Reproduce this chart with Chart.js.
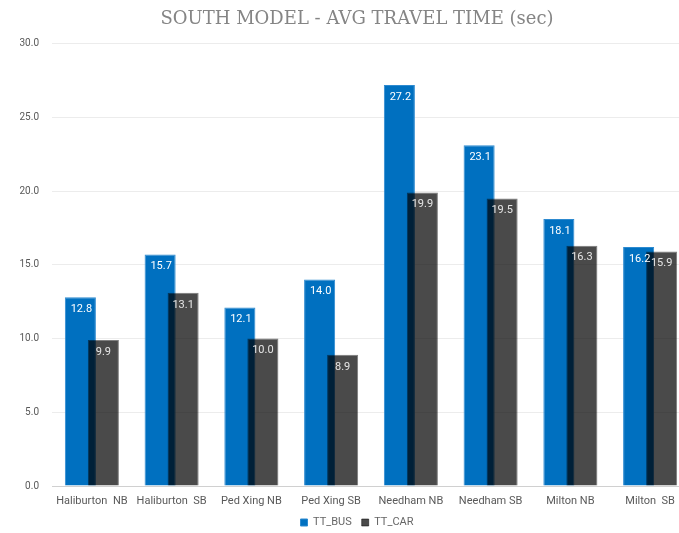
<!DOCTYPE html>
<html>
<head>
<meta charset="utf-8">
<script src="https://cdn.jsdelivr.net/npm/chart.js@4.4.1/dist/chart.umd.min.js"></script>
<style>
    html, body { margin: 0; padding: 0; background: #fff; overflow: hidden; }
    #wrap { width: 714px; height: 533px; }
</style>
</head>
<body>
<div id="wrap"><canvas id="myChart" width="714" height="533"></canvas></div>
<script>
// chart data
var categories = ['Haliburton  NB', 'Haliburton  SB', 'Ped Xing NB', 'Ped Xing SB', 'Needham NB', 'Needham SB', 'Milton NB', 'Milton  SB'];
var busTimes = [12.8, 15.7, 12.1, 14.0, 27.2, 23.1, 18.1, 16.2];
var carTimes = [9.9, 13.1, 10.0, 8.9, 19.9, 19.5, 16.3, 15.9];
var yTicks = [0, 5, 10, 15, 20, 25, 30];

// chart.js paints the last dataset first, so the car bars would sit under the bus bars.
// skip the car set in the normal pass and paint it right after the bus set instead
var carOnTop = {
    id: 'carOnTop',
    beforeDatasetDraw: function (chart, args) {
        if (args.index === 1 && !chart._carPass) return false;
    },
    afterDatasetDraw: function (chart, args) {
        if (args.index === 0) {
            chart._carPass = true;
            chart.getDatasetMeta(1).controller.draw();
            chart._carPass = false;
        }
    }
};

// keep the legend strip short so the plot reaches further down
var shortLegend = {
    id: 'shortLegend',
    beforeInit: function (chart) {
        var legend = chart.legend;
        if (!legend) return;
        var fit = legend.fit;
        legend.fit = function () {
            fit.call(this);
            this.height = 26;
        };
    }
};

// value labels drawn inside the top of each bar
var barLabels = {
    id: 'barLabels',
    afterDatasetsDraw: function (chart) {
        var ctx = chart.ctx;
        ctx.save();
        ctx.font = '11px Roboto';
        ctx.textAlign = 'center';
        ctx.textBaseline = 'middle';
        chart.data.datasets.forEach(function (ds, i) {
            chart.getDatasetMeta(i).data.forEach(function (bar, j) {
                ctx.fillStyle = i === 0 ? '#ffffff' : '#e6e6e6';
                ctx.fillText(ds.data[j].toFixed(1), bar.x + (i === 0 ? 1 : 0), bar.y + 12);
            });
        });
        ctx.restore();
    }
};

var ctx = document.getElementById('myChart').getContext('2d');
var myChart = new Chart(ctx, {
    type: 'bar',
    data: {
        labels: categories,
        datasets: [{
            label: 'TT_BUS',
            data: busTimes,
            backgroundColor: '#0070c0',
            borderColor: '#2d8ad0',
            borderWidth: 1,
            barPercentage: 1.35,
            categoryPercentage: 0.577
        }, {
            label: 'TT_CAR',
            data: carTimes,
            backgroundColor: 'rgba(0, 0, 0, 0.71)',
            borderColor: 'rgba(0, 0, 0, 0.5)',
            borderWidth: 1,
            barPercentage: 1.35,
            categoryPercentage: 0.577
        }]
    },
    options: {
        responsive: false,
        animation: false,
        layout: { padding: { left: 0, right: 0, top: 7, bottom: 0 } },
        plugins: {
            title: {
                display: true,
                text: 'SOUTH MODEL - AVG TRAVEL TIME (sec)',
                color: '#858585',
                font: { family: 'DejaVu Serif', size: 18, weight: 'normal' },
                padding: { top: 2, bottom: 13 }
            },
            legend: {
                position: 'bottom',
                labels: {
                    boxWidth: 7,
                    boxHeight: 7,
                    color: '#666666',
                    font: { family: 'Roboto', size: 11 },
                    padding: 10
                }
            },
            tooltip: { enabled: false }
        },
        scales: {
            x: {
                afterFit: function (scale) { scale.height = 21; },
                grid: { display: false, drawTicks: false },
                border: { display: false },
                ticks: {
                    color: '#595959',
                    font: { family: 'Roboto', size: 11 },
                    maxRotation: 0,
                    autoSkip: false,
                    padding: 9
                }
            },
            y: {
                min: 0,
                max: 30,
                afterFit: function (scale) { scale.width = 52; },
                afterBuildTicks: function (scale) {
                    scale.ticks = yTicks.map(function (v) { return { value: v }; });
                },
                border: { display: false },
                grid: {
                    drawTicks: false,
                    color: function (c) { return c.tick.value === 0 ? '#d0d0d0' : '#ececec'; }
                },
                ticks: {
                    color: '#595959',
                    font: { family: 'Roboto', size: 10 },
                    padding: 13,
                    callback: function (v) { return Number(v).toFixed(1); }
                }
            },
            // empty right-hand strip so the plot ends where the original was cut off
            yRight: {
                position: 'right',
                min: 0,
                max: 30,
                afterFit: function (scale) { scale.width = 24; },
                grid: { display: false, drawTicks: false },
                border: { display: false },
                ticks: { display: false }
            }
        }
    },
    plugins: [carOnTop, shortLegend, barLabels]
});
</script>
</body>
</html>
